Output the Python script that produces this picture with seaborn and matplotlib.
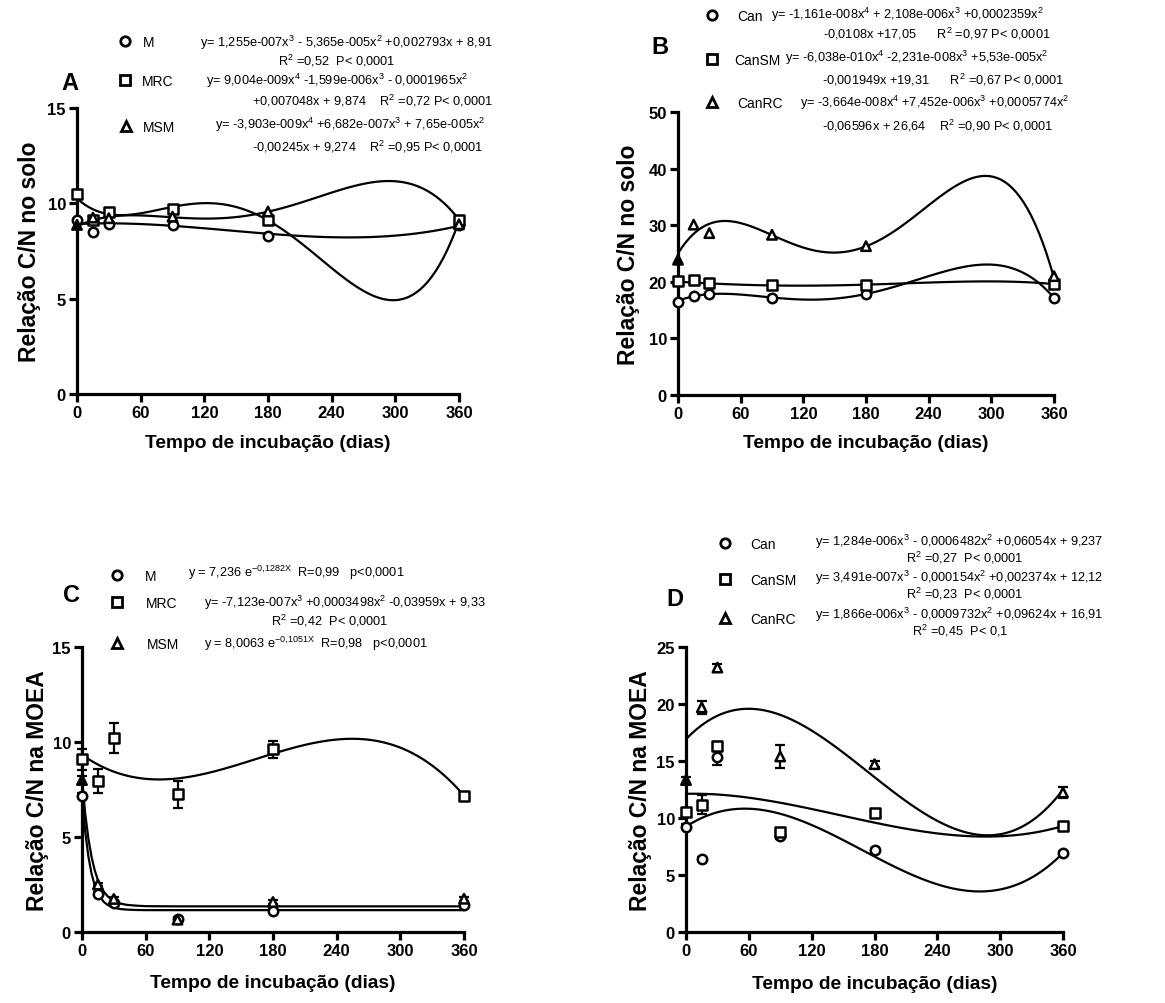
import numpy as np
import pandas as pd
import matplotlib
matplotlib.use("Agg")
import matplotlib.pyplot as plt
import seaborn as sns
from matplotlib.lines import Line2D

# ---------------- data ----------------
days = [0, 15, 30, 90, 180, 360]

# Panel A - Relação C/N no solo
A_M = [9.10, 8.52, 8.92, 8.87, 8.31, 8.86]
A_MRC = [10.49, 9.13, 9.57, 9.69, 9.13, 9.10]
A_MSM = [8.87, 9.25, 9.22, 9.30, 9.57, 8.90]

# Panel B - Relação C/N no solo
B_Can = [16.5, 17.5, 17.8, 17.2, 17.8, 17.2]
B_CanSM = [20.1, 20.3, 19.8, 19.5, 19.4, 19.6]
B_CanRC = [23.9, 30.1, 28.6, 28.3, 26.3, 21.0]

# Panel C - Relação C/N na MOEA (mean, error)
C_M = [7.18, 2.00, 1.55, 0.70, 1.09, 1.40]
C_M_err = [0.15, 0.10, 0.10, 0.10, 0.10, 0.10]
C_MRC = [9.10, 7.95, 10.20, 7.25, 9.61, 7.14]
C_MRC_err = [0.55, 0.65, 0.80, 0.72, 0.45, 0.12]
C_MSM = [8.00, 2.50, 1.74, 0.65, 1.58, 1.75]
C_MSM_err = [0.20, 0.10, 0.10, 0.05, 0.10, 0.10]

# Panel D - Relação C/N na MOEA (mean, error)
D_Can = [9.24, 6.40, 15.38, 8.45, 7.17, 6.94]
D_Can_err = [0.20, 0.20, 0.70, 0.25, 0.20, 0.15]
D_CanSM = [10.56, 11.17, 16.30, 8.80, 10.40, 9.27]
D_CanSM_err = [0.30, 0.85, 0.40, 0.30, 0.35, 0.20]
D_CanRC = [13.33, 19.70, 23.20, 15.40, 14.72, 12.24]
D_CanRC_err = [0.30, 0.55, 0.35, 1.00, 0.25, 0.50]

# fitted trend curves
A_M_fit_x = [0, 30, 60, 90, 120, 150, 180, 210, 240, 270, 300, 330, 360]
A_M_fit_y = [8.91, 8.95, 8.91, 8.82, 8.69, 8.55, 8.41, 8.29, 8.22, 8.22, 8.31, 8.50, 8.82]
A_MRC_fit_x = [0, 15, 30, 45, 60, 90, 120, 150, 180, 210, 240, 270, 300, 330, 345, 360]
A_MRC_fit_y = [10.35, 9.55, 9.35, 9.42, 9.60, 9.85, 9.95, 9.72, 9.13, 8.05, 6.60, 5.40, 4.82, 5.90, 7.20, 9.00]
A_MSM_fit_x = [0, 15, 30, 60, 90, 120, 150, 180, 210, 240, 270, 300, 330, 345, 360]
A_MSM_fit_y = [8.87, 9.10, 9.20, 9.28, 9.30, 9.30, 9.35, 9.55, 10.00, 10.50, 10.92, 11.12, 10.85, 10.20, 8.95]

B_Can_fit_x = [0, 15, 30, 60, 90, 120, 150, 180, 210, 240, 270, 300, 320, 335, 348, 360]
B_Can_fit_y = [16.5, 17.5, 17.95, 17.8, 17.2, 16.8, 16.9, 17.7, 19.4, 21.3, 22.5, 22.95, 22.2, 21.2, 19.3, 17.3]
B_CanSM_fit_x = [0, 30, 60, 90, 120, 150, 180, 210, 240, 270, 300, 330, 360]
B_CanSM_fit_y = [20.0, 19.75, 19.5, 19.35, 19.3, 19.35, 19.5, 19.7, 19.9, 20.0, 20.05, 19.95, 19.6]
B_CanRC_fit_x = [0, 15, 30, 45, 60, 90, 120, 150, 180, 210, 240, 270, 300, 320, 335, 348, 360]
B_CanRC_fit_y = [24.9, 28.8, 30.1, 30.6, 30.45, 28.3, 26.0, 25.1, 26.4, 29.3, 33.6, 37.2, 38.4, 36.9, 32.8, 27.5, 20.6]

C_exp_fit_x = [0, 3, 6, 9, 12, 15, 18, 21, 24, 27, 30, 36, 42, 50, 60, 90, 180, 360]
C_M_fit_y = [7.25, 5.30, 3.98, 3.07, 2.46, 2.04, 1.76, 1.56, 1.43, 1.34, 1.28, 1.21, 1.18, 1.16, 1.15, 1.15, 1.15, 1.15]
C_MSM_fit_y = [8.05, 6.24, 4.92, 3.95, 3.25, 2.73, 2.36, 2.09, 1.89, 1.74, 1.64, 1.50, 1.43, 1.39, 1.36, 1.35, 1.35, 1.35]
C_MRC_fit_x = [0, 30, 60, 90, 120, 150, 180, 210, 240, 270, 300, 330, 360]
C_MRC_fit_y = [9.33, 8.44, 8.06, 8.08, 8.39, 8.86, 9.38, 9.85, 10.13, 10.12, 9.70, 8.76, 7.18]

D_fit_x = [0, 30, 60, 90, 120, 150, 180, 210, 240, 270, 300, 330, 360]
D_Can_fit_y = [9.24, 10.50, 10.81, 10.37, 9.39, 8.07, 6.62, 5.26, 4.18, 3.60, 3.73, 4.77, 6.93]
D_CanSM_fit_y = [12.12, 12.06, 11.78, 11.34, 10.79, 10.19, 9.59, 9.06, 8.65, 8.41, 8.40, 8.68, 9.30]
D_CanRC_fit_y = [16.91, 18.97, 19.58, 19.05, 17.67, 15.75, 13.58, 11.48, 9.75, 8.68, 8.58, 9.74, 12.48]

# ---------------- style ----------------
sns.set_theme(style="ticks")
plt.rcParams["font.family"] = ["Liberation Sans", "DejaVu Sans"]
plt.rcParams["mathtext.fontset"] = "custom"
plt.rcParams["mathtext.rm"] = "Liberation Sans"
plt.rcParams["mathtext.it"] = "Liberation Sans"
plt.rcParams["mathtext.default"] = "regular"
for k in ["text.color", "axes.labelcolor", "xtick.color", "ytick.color", "axes.edgecolor"]:
    plt.rcParams[k] = "black"

W, H = 1165, 1004
fig = plt.figure(figsize=(W / 100, H / 100), dpi=100)
fig.patch.set_facecolor("white")


def fx(px):
    return px / W


def fy(py):
    return 1 - py / H


def make_ax(x0, x1, y0, y1):
    # pixel box: x0 (day 0), x1 (day 360), y0 (top), y1 (bottom)
    return fig.add_axes([fx(x0), fy(y1), fx(x1) - fx(x0), fy(y0) - fy(y1)])


LW_AX = 2.3
LW_CURVE = 1.6
MS = 46
MEW = 1.8


def style(ax, ymax, ystep, ylabel, ylab_px, xlab_py, box):
    x0, x1, y0, y1 = box
    ax.set_xlim(0, 360)
    ax.set_ylim(0, ymax)
    ax.set_xticks(range(0, 361, 60))
    ax.set_yticks(np.arange(0, ymax + 0.01, ystep))
    for s in ["top", "right"]:
        ax.spines[s].set_visible(False)
    for s in ["left", "bottom"]:
        ax.spines[s].set_linewidth(LW_AX)
        ax.spines[s].set_color("black")
    ax.tick_params(length=6, width=LW_AX, labelsize=12, pad=2, colors="black")
    for lab in ax.get_xticklabels() + ax.get_yticklabels():
        lab.set_fontweight("bold")
    ax.set_xlabel("Tempo de incubação (dias)", fontsize=13.8, fontweight="bold", va="center")
    ax.set_ylabel(ylabel, fontsize=16.5, fontweight="bold", va="center")
    ax.yaxis.set_label_coords((ylab_px - x0) / (x1 - x0), 0.5)
    ax.xaxis.set_label_coords(0.5, (y1 - xlab_py) / (y1 - y0))
    ax.set_facecolor("white")
    ax.grid(False)


def points(ax, y, marker, err=None, fill_first=False):
    if err is not None:
        ax.errorbar(days, y, yerr=err, fmt="none", ecolor="black", elinewidth=1.6,
                    capsize=3.5, capthick=1.6, zorder=4, clip_on=False)
    sns.scatterplot(x=days, y=y, marker=marker, s=MS, facecolor="white",
                    edgecolor="black", linewidth=MEW, ax=ax, zorder=5)
    coll = ax.collections[-1]
    coll.set_clip_on(False)
    if fill_first:
        fc = ["black"] + ["white"] * (len(days) - 1)
        coll.set_facecolors(fc)


def poly_curve(ax, xs, ys, order):
    sns.regplot(x=xs, y=ys, order=order, scatter=False, ci=None, ax=ax, truncate=True,
                line_kws=dict(color="black", lw=LW_CURVE, zorder=3))


def line_curve(ax, xs, ys):
    sns.lineplot(x=xs, y=ys, color="black", lw=LW_CURVE, ax=ax, zorder=3,
                 estimator=None, sort=False)


LEG_FS = 10
EQ_FS = 9.2


def key(marker, name, kx, ky, text_left, filled=False):
    h = Line2D([], [], ls="none", marker=marker, ms=6.8, mfc="black" if filled else "white",
               mec="black", mew=2.0)
    em = LEG_FS * 100 / 72.0
    hl = 0.8
    pad = (text_left - kx - hl * em / 2) / em
    fig.legend(handles=[h], labels=[name], loc="center left",
               bbox_to_anchor=(fx(kx - hl * em / 2), fy(ky)), frameon=False,
               handlelength=hl, handletextpad=pad, borderpad=0, borderaxespad=0,
               fontsize=LEG_FS, numpoints=1)


def txt(x, y, s, ha="left"):
    fig.text(fx(x), fy(y), s, ha=ha, va="center", fontsize=EQ_FS, color="black")


def letter(x, y, s):
    fig.text(fx(x), fy(y), s, ha="center", va="center", fontsize=17, fontweight="bold")


# ---------------- Panel A ----------------
boxA = (77, 459, 109, 395)
axA = make_ax(*boxA)
poly_curve(axA, A_M_fit_x, A_M_fit_y, 3)
poly_curve(axA, A_MRC_fit_x, A_MRC_fit_y, 4)
poly_curve(axA, A_MSM_fit_x, A_MSM_fit_y, 4)
points(axA, A_M, "o")
points(axA, A_MRC, "s")
points(axA, A_MSM, "^", fill_first=True)
style(axA, 15, 5, "Relação C/N no solo", 30, 444, boxA)
letter(70, 84, "A")
key("o", "M", 125, 43, 143)
txt(200, 43, "y= 1,255e-007x$^3$ - 5,365e-005x$^2$ +0,002793x + 8,91")
txt(337, 61, "R$^2$ =0,52  P< 0,0001", ha="center")
key("s", "MRC", 125, 82, 142)
txt(206, 81, "y= 9,004e-009x$^4$ -1,599e-006x$^3$ - 0,0001965x$^2$")
txt(252, 101, "+0,007048x + 9,874    R$^2$ =0,72 P< 0,0001")
key("^", "MSM", 126, 128, 143)
txt(215, 125, "y= -3,903e-009x$^4$ +6,682e-007x$^3$ + 7,65e-005x$^2$")
txt(252, 147, "-0,00245x + 9,274    R$^2$ =0,95 P< 0,0001")

# ---------------- Panel B ----------------
boxB = (678, 1054, 113, 396)
axB = make_ax(*boxB)
poly_curve(axB, B_Can_fit_x, B_Can_fit_y, 4)
poly_curve(axB, B_CanSM_fit_x, B_CanSM_fit_y, 4)
poly_curve(axB, B_CanRC_fit_x, B_CanRC_fit_y, 4)
points(axB, B_Can, "o")
points(axB, B_CanSM, "s")
points(axB, B_CanRC, "^", fill_first=True)
style(axB, 50, 10, "Relação C/N no solo", 628, 444, boxB)
letter(660, 47, "B")
key("o", "Can", 712, 17, 737)
txt(771, 15, "y= -1,161e-008x$^4$ + 2,108e-006x$^3$ +0,0002359x$^2$")
txt(823, 34, "-0,0108x +17,05      R$^2$ =0,97 P< 0,0001")
key("s", "CanSM", 712, 61, 734)
txt(785, 58, "y= -6,038e-010x$^4$ -2,231e-008x$^3$ +5,53e-005x$^2$")
txt(822, 80, "-0,001949x +19,31      R$^2$ =0,67 P< 0,0001")
key("^", "CanRC", 712, 104, 737)
txt(800, 103, "y= -3,664e-008x$^4$ +7,452e-006x$^3$ +0,0005774x$^2$")
txt(822, 126, "-0,06596x + 26,64    R$^2$ =0,90 P< 0,0001")

# ---------------- Panel C ----------------
boxC = (82, 464, 648, 933)
axC = make_ax(*boxC)
line_curve(axC, C_exp_fit_x, C_M_fit_y)
line_curve(axC, C_exp_fit_x, C_MSM_fit_y)
poly_curve(axC, C_MRC_fit_x, C_MRC_fit_y, 3)
points(axC, C_M, "o", C_M_err)
points(axC, C_MRC, "s", C_MRC_err)
points(axC, C_MSM, "^", C_MSM_err, fill_first=True)
style(axC, 15, 5, "Relação C/N na MOEA", 38, 984, boxC)
letter(72, 596, "C")
key("o", "M", 117, 577, 145)
txt(188, 573, "y = 7,236 e$^{-0{,}1282X}$  R=0,99   p<0,0001")
key("s", "MRC", 117, 604, 146)
txt(204, 603, "y= -7,123e-007x$^3$ +0,0003498x$^2$ -0,03959x + 9,33")
txt(330, 621, "R$^2$ =0,42  P< 0,0001", ha="center")
key("^", "MSM", 117, 645, 147)
txt(204, 644, "y = 8,0063 e$^{-0{,}1051X}$  R=0,98   p<0,0001")

# ---------------- Panel D ----------------
boxD = (686, 1063, 648, 933)
axD = make_ax(*boxD)
poly_curve(axD, D_fit_x, D_Can_fit_y, 3)
poly_curve(axD, D_fit_x, D_CanSM_fit_y, 3)
poly_curve(axD, D_fit_x, D_CanRC_fit_y, 3)
points(axD, D_Can, "o", D_Can_err)
points(axD, D_CanSM, "s", D_CanSM_err)
points(axD, D_CanRC, "^", D_CanRC_err, fill_first=True)
style(axD, 25, 5, "Relação C/N na MOEA", 640, 985, boxD)
letter(675, 600, "D")
key("o", "Can", 725, 545, 750)
txt(815, 542, "y= 1,284e-006x$^3$ - 0,0006482x$^2$ +0,06054x + 9,237")
txt(965, 558, "R$^2$ =0,27  P< 0,0001", ha="center")
key("s", "CanSM", 725, 581, 750)
txt(815, 578, "y= 3,491e-007x$^3$ - 0,000154x$^2$ +0,002374x + 12,12")
txt(965, 594, "R$^2$ =0,23  P< 0,0001", ha="center")
key("^", "CanRC", 725, 620, 750)
txt(960, 631, "R$^2$ =0,45  P< 0,1", ha="center")
txt(815, 615, "y= 1,866e-006x$^3$ - 0,0009732x$^2$ +0,09624x + 16,91")

fig.savefig("out.png", dpi=100, facecolor="white")
